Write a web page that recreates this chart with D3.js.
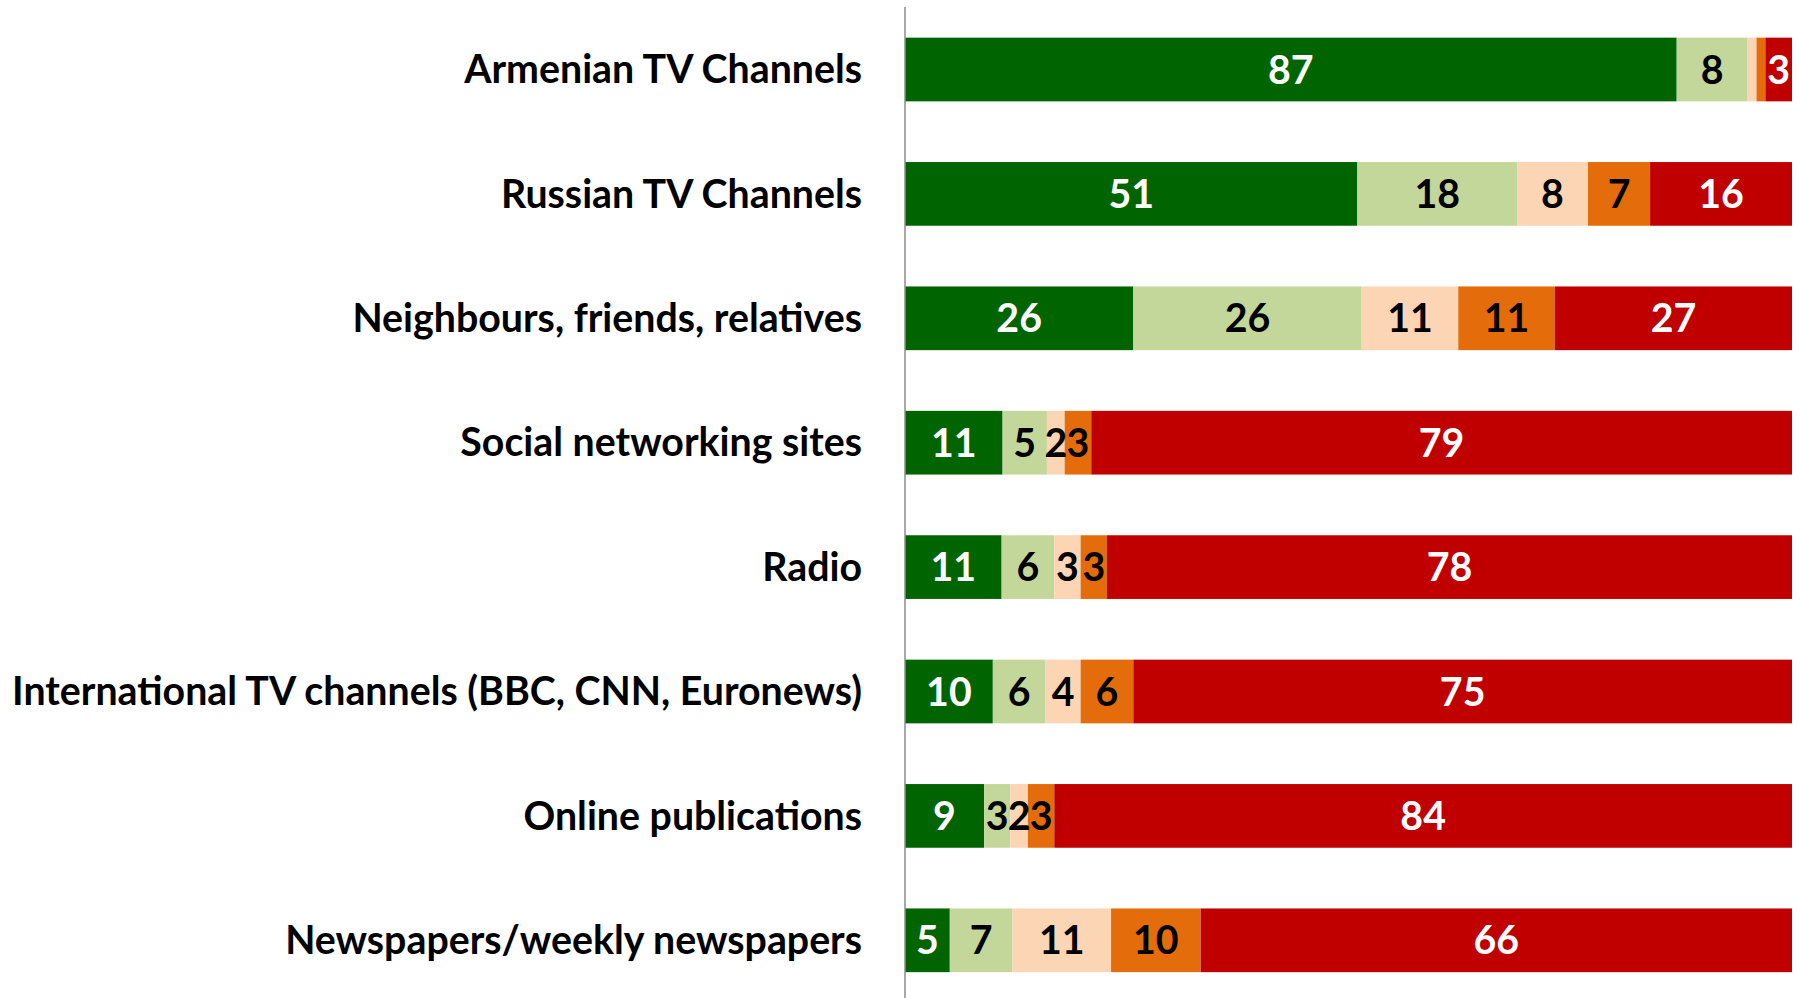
<!DOCTYPE html>
<html>
<head>
<meta charset="utf-8">
<script src="https://cdn.jsdelivr.net/npm/d3@7"></script>
<style>
html,body{margin:0;padding:0;background:#fff;}
svg{display:block;}
</style>
</head>
<body>
<svg id="chart" width="1800" height="998"></svg>
<script>
const categories = [
  "Armenian TV Channels",
  "Russian TV Channels",
  "Neighbours, friends, relatives",
  "Social networking sites",
  "Radio",
  "International TV channels (BBC, CNN, Euronews)",
  "Online publications",
  "Newspapers/weekly newspapers"
];
const seriesKeys = ["s1", "s2", "s3", "s4", "s5"];
const s1 = [87, 51, 26, 11, 11, 10, 9, 5];
const s2 = [8, 18, 26, 5, 6, 6, 3, 7];
const s3 = [1, 8, 11, 2, 3, 4, 2, 11];
const s4 = [1, 7, 11, 3, 3, 6, 3, 10];
const s5 = [3, 16, 27, 79, 78, 75, 84, 66];
const seriesColors = ["#006400", "#c4d79b", "#fcd5b4", "#e46c0a", "#c00000"];
const labelColors = ["#ffffff", "#000000", "#000000", "#000000", "#ffffff"];

const seriesData = [s1, s2, s3, s4, s5];
const rows = categories.map((c, i) => {
  const r = {category: c};
  seriesKeys.forEach((k, j) => r[k] = seriesData[j][i]);
  return r;
});

const svg = d3.select("#chart");
const axisX = 905, rightX = 1792;
const step = 124.4;
const y0 = 7.3;

const x = d3.scaleLinear().domain([0, 1]).range([axisX, rightX]);
const y = d3.scaleBand().domain(categories)
  .range([y0, y0 + step * categories.length])
  .paddingInner(0.488).paddingOuter(0.244);

const stack = d3.stack().keys(seriesKeys).offset(d3.stackOffsetExpand);
const stacked = stack(rows);

const font = "Lato, 'Open Sans', sans-serif";

const groups = svg.append("g").selectAll("g")
  .data(stacked).join("g")
  .attr("fill", (d, i) => seriesColors[i]);

groups.selectAll("rect")
  .data(d => d)
  .join("rect")
  .attr("x", d => x(d[0]))
  .attr("width", d => x(d[1]) - x(d[0]))
  .attr("y", d => y(d.data.category))
  .attr("height", y.bandwidth());

// category labels
const catG = svg.append("g");
const catLabels = catG.selectAll("text")
  .data(categories).join("text")
  .attr("x", 862)
  .attr("y", d => y(d) + y.bandwidth() / 2)
  .attr("dy", "0.35em")
  .attr("text-anchor", "end")
  .attr("font-family", font)
  .attr("font-weight", 700)
  .attr("font-size", 36)
  .attr("fill", "#000")
  .text(d => d);

// fit longest label to reference width
let maxW = 0;
catLabels.each(function(){ maxW = Math.max(maxW, this.getComputedTextLength()); });
const fs = 36 * 850 / maxW;
catLabels.attr("font-size", fs);

// value labels
stacked.forEach((layer, i) => {
  svg.append("g").selectAll("text")
    .data(layer.filter((d, j) => layer[j].data[layer.key] >= 2))
    .join("text")
    .attr("x", d => (x(d[0]) + x(d[1])) / 2)
    .attr("y", d => y(d.data.category) + y.bandwidth() / 2)
    .attr("dy", "0.36em")
    .attr("text-anchor", "middle")
    .attr("font-family", font)
    .attr("font-weight", 700)
    .attr("font-size", fs)
    .attr("fill", labelColors[i])
    .text(d => d.data[layer.key]);
});

// vertical axis line
svg.append("line")
  .attr("x1", axisX).attr("x2", axisX)
  .attr("y1", 7).attr("y2", 998)
  .attr("stroke", "#8c8c8c")
  .attr("stroke-width", 1.5);
</script>
</body>
</html>
